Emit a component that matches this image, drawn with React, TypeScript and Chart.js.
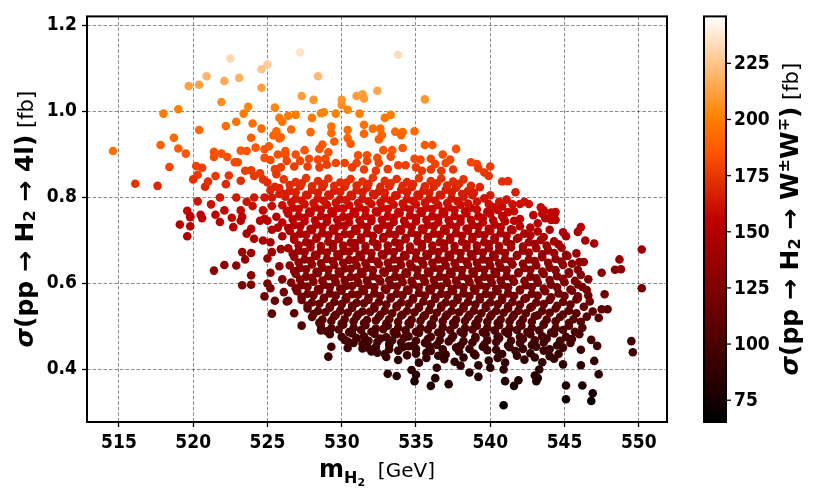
import { useEffect, useRef } from "react";
import { Chart, registerables } from "chart.js";

Chart.register(...registerables);

const massTicks = [515, 520, 525, 530, 535, 540, 545, 550];
const sigma4lTicks = [0.4, 0.6, 0.8, 1.0, 1.2];
const sigmaWWTicks = [75, 100, 125, 150, 175, 200, 225];
const massRange = [512.85, 551.9];
const sigma4lRange = [0.278, 1.221];
const sigmaWWRange = [65.3, 245.9];

// each point: [m_H2 (GeV), sigma(pp->H2->4l) (fb), sigma(pp->H2->WW) (fb)]
const topCloud = [
  [522.5,1.123,232],[525.0,1.109,228],[524.6,1.098,225],[520.9,1.082,220],[523.1,1.078,218],[522.1,1.071,216],
  [519.7,1.059,212],[520.4,1.062,213],[524.6,1.055,212],[521.9,1.022,206],[523.7,1.011,203],[525.5,1.009,203],
  [519.0,1.005,201],[518.0,0.995,199],[523.4,0.995,199],[522.9,0.976,196],[522.2,0.966,194],[524.0,0.972,195],
  [526.0,0.976,196],[520.4,0.957,192],[524.6,0.960,193],[525.6,0.954,192],[523.9,0.939,189],[525.8,0.937,189],
  [514.6,0.908,196],[517.8,0.922,190],[518.7,0.939,192],[519.0,0.914,188],[519.5,0.902,186],[521.4,0.906,185],
  [521.9,0.902,184],[521.4,0.894,183],[522.3,0.894,183],[523.2,0.909,186],[523.6,0.908,185],[524.2,0.916,187],
  [524.8,0.912,186],[525.1,0.919,187],[526.2,0.908,185],[522.8,0.882,181],[523.0,0.882,181],[524.8,0.892,183],
  [525.2,0.887,182],[520.2,0.873,179],[520.6,0.869,178],[518.4,0.871,180],[523.5,0.862,177],[523.9,0.863,177],
  [524.1,0.850,175],[524.5,0.856,176],[525.5,0.866,178],[525.6,0.854,175],[521.5,0.850,175],[522.4,0.851,175],
  [520.3,0.853,176],[520.0,0.842,173],[523.2,0.839,172],[524.7,0.842,173],[525.0,0.835,171],[516.1,0.832,173],
  [517.6,0.827,170],[520.8,0.825,169],[521.0,0.837,172],[522.2,0.831,170],[525.5,0.825,169],[525.8,0.808,166],
  [525.2,0.817,168],
  [527.2,1.137,236],[533.8,1.132,234],[528.4,1.082,221],[527.3,1.036,211],[528.1,1.027,209],[530.0,1.027,209],
  [530.0,1.015,207],[531.0,1.036,211],[531.4,1.040,212],[531.5,1.030,210],[532.4,1.048,214],[535.6,1.028,209],
  [528.6,0.996,202],[528.8,0.998,202],[530.4,1.004,203],[529.6,0.995,201],[531.2,0.995,201],[526.9,0.992,200],
  [526.4,0.990,199],[525.8,0.985,198],[533.3,0.992,200],[532.9,0.985,198],[528.0,0.985,198],[531.5,0.969,196],
  [532.1,0.960,194],[532.6,0.960,194],[534.9,0.954,193],[533.6,0.953,193],[534.1,0.952,193],[529.3,0.965,195],
  [530.4,0.957,193],[526.6,0.958,193],[527.9,0.952,192],[529.3,0.950,192],[531.5,0.948,191],[532.7,0.945,191],
  [534.0,0.945,191],[525.4,0.944,191],[525.9,0.940,190],[528.7,0.923,187],[529.5,0.930,188],[530.4,0.938,190],
  [530.6,0.925,187],[532.5,0.935,189],[535.6,0.922,187],[536.1,0.922,187],[537.7,0.913,185],[536.8,0.900,183],
  [538.7,0.882,180],[525.7,0.900,183],[526.2,0.900,183],[526.9,0.900,183],[527.5,0.910,185],[528.5,0.913,185],
  [529.1,0.905,184],[531.1,0.898,183],[531.7,0.898,183],[532.8,0.910,185],[533.4,0.910,185],[534.1,0.915,186],
  [532.4,0.892,182],[533.3,0.895,182],[534.9,0.890,181],[535.3,0.888,181],[536.0,0.890,181],[526.3,0.885,180],
  [527.2,0.885,180],[527.8,0.890,181],[528.4,0.888,181],[528.9,0.890,181],[529.6,0.880,179],[530.2,0.880,179],
  [531.0,0.880,179],[531.7,0.885,180],[532.5,0.880,179],[533.8,0.875,178],[534.3,0.875,178],[535.0,0.870,177],
  [536.3,0.878,179],[537.0,0.880,179],[537.3,0.888,181],[525.9,0.870,177],[526.8,0.872,177],[527.7,0.872,177],
  [528.5,0.870,177],[529.0,0.876,178],[530.7,0.870,177],[531.5,0.865,176],[532.3,0.862,175],[533.1,0.866,176],
  [535.4,0.862,175],[536.0,0.865,176],[536.7,0.862,175],[537.5,0.865,176],[539.1,0.878,179],
  [539.2,0.868,177],[539.6,0.858,175],[540.0,0.872,177],[539.9,0.850,174],[540.8,0.837,172],[541.2,0.838,172],
  [541.7,0.812,166],[540.0,0.805,165],[539.6,0.798,163],[538.8,0.805,165],[539.1,0.790,162],[539.9,0.785,161],
  [540.2,0.778,160],[542.0,0.785,161],[542.3,0.790,162],[542.6,0.785,161],[543.4,0.777,159],[543.6,0.770,158],
  [544.1,0.765,157],[544.4,0.766,157],[541.6,0.768,158],
];

const leftWing = [
  [521.8,0.800,164],[522.9,0.800,164],[523.6,0.790,162],[524.1,0.800,164],[524.8,0.800,164],[525.3,0.800,164],
  [520.3,0.791,162],[519.6,0.769,157],[521.2,0.784,161],[522.1,0.770,158],[523.2,0.770,158],[524.0,0.780,160],
  [524.7,0.770,158],[525.3,0.780,160],[520.5,0.760,155],[519.8,0.757,155],[521.5,0.760,155],[522.6,0.753,154],
  [523.3,0.755,154],[524.8,0.750,153],[525.6,0.755,154],
  [519.1,0.737,152],[519.8,0.754,154],[519.8,0.733,151],[520.6,0.752,154],[519.6,0.710,148],[521.8,0.743,152],
  [522.7,0.731,150],[523.2,0.746,152],[523.9,0.727,149],[523.6,0.716,147],[524.1,0.704,145],[524.5,0.746,152],
  [525.0,0.746,152],[524.7,0.700,144],[525.3,0.725,149],[525.2,0.696,143],[526.0,0.710,146],[525.7,0.730,150],
  [521.4,0.630,131],[522.1,0.643,133],[522.9,0.642,133],[523.3,0.673,139],[523.9,0.671,138],[523.5,0.656,135],
  [523.9,0.619,128],[523.3,0.596,124],[523.9,0.597,124],[525.0,0.658,136],[525.3,0.673,139],[525.2,0.625,129],
  [525.0,0.600,124],[525.9,0.680,140],[525.8,0.640,132],[526.0,0.610,126],[525.2,0.589,122],[524.8,0.570,118],
  [525.5,0.560,116],[526.1,0.580,120],[525.3,0.530,110],[526.4,0.560,116],
];

const coreUpper = [
  [526.1,0.842,174],[526.9,0.836,172],[527.6,0.845,175],[528.4,0.838,172],[529.1,0.844,174],[529.9,0.835,171],
  [530.6,0.843,174],[531.4,0.837,172],[532.1,0.846,175],[532.9,0.839,172],[533.7,0.843,173],[534.4,0.836,171],
  [535.2,0.845,175],[536.0,0.838,172],[536.7,0.844,174],[537.5,0.837,172],[538.2,0.842,173],
  [525.8,0.822,169],[526.5,0.815,167],[527.2,0.826,170],[528.0,0.818,167],[528.7,0.824,169],[529.5,0.816,166],
  [530.2,0.825,169],[531.0,0.817,167],[531.7,0.823,168],[532.5,0.814,166],[533.2,0.826,170],[534.0,0.818,167],
  [534.7,0.824,169],[535.5,0.816,166],[536.2,0.825,169],[537.0,0.818,167],[537.7,0.823,168],[538.5,0.815,166],
  [539.3,0.824,169],
  [526.2,0.802,164],[526.9,0.797,163],[527.7,0.805,165],[528.4,0.798,163],[529.2,0.804,165],[529.9,0.796,162],
  [530.7,0.803,164],[531.4,0.797,163],[532.2,0.805,165],[532.9,0.798,163],[533.7,0.804,164],[534.4,0.796,162],
  [535.2,0.803,164],[535.9,0.797,163],[536.7,0.805,165],[537.4,0.798,163],[538.2,0.802,164],
  [526.0,0.782,160],[526.7,0.776,158],[527.5,0.784,161],[528.2,0.777,159],[529.0,0.783,160],[529.7,0.775,158],
  [530.5,0.782,160],[531.2,0.777,159],[532.0,0.785,161],[532.7,0.776,158],[533.5,0.783,160],[534.2,0.778,159],
  [535.0,0.784,161],[535.7,0.776,158],[536.5,0.782,160],[537.2,0.777,159],[538.0,0.783,160],[538.7,0.776,158],
  [540.8,0.779,159],[541.5,0.784,161],
  [526.4,0.762,156],[527.1,0.756,154],[527.9,0.764,157],[528.6,0.757,155],[529.4,0.763,156],[530.1,0.755,154],
  [530.9,0.762,156],[531.6,0.757,155],[532.4,0.765,157],[533.1,0.756,154],[533.9,0.763,156],[534.6,0.758,155],
  [535.4,0.764,157],[536.1,0.756,154],[536.9,0.762,156],[537.6,0.757,155],[538.4,0.763,156],[539.2,0.756,154],
  [540.0,0.762,156],[540.8,0.757,155],[542.9,0.759,155],[543.5,0.762,156],
  [526.0,0.742,152],[526.8,0.736,150],[527.5,0.744,153],[528.3,0.737,151],[529.0,0.743,152],[529.8,0.735,150],
  [530.5,0.742,152],[531.3,0.737,151],[532.0,0.745,153],[532.8,0.736,150],[533.5,0.743,152],[534.3,0.738,151],
  [535.0,0.744,153],[535.8,0.736,150],[536.5,0.742,152],[537.3,0.737,151],[538.0,0.743,152],[538.8,0.736,150],
  [539.5,0.742,152],[540.3,0.737,151],[541.0,0.744,153],
  [526.5,0.722,148],[527.2,0.716,146],[528.0,0.724,149],[528.7,0.717,147],[529.5,0.723,148],[530.2,0.715,146],
  [531.0,0.722,148],[531.7,0.717,147],[532.5,0.725,149],[533.2,0.716,146],[534.0,0.723,148],[534.7,0.718,147],
  [535.5,0.724,149],[536.2,0.716,146],[537.0,0.722,148],[537.7,0.717,147],[538.5,0.723,148],[539.2,0.716,146],
  [540.0,0.722,148],[540.7,0.717,147],[541.5,0.724,149],[542.3,0.716,146],[543.2,0.721,147],[544.0,0.725,149],
  [544.9,0.719,147],
  [526.8,0.702,144],[527.6,0.696,142],[528.3,0.704,145],[529.1,0.697,143],[529.8,0.703,144],[530.6,0.695,142],
  [531.3,0.702,144],[532.1,0.697,143],[532.8,0.705,145],[533.6,0.696,142],[534.3,0.703,144],[535.1,0.698,143],
  [535.8,0.704,145],[536.6,0.696,142],[537.3,0.702,144],[538.1,0.697,143],[538.8,0.703,144],[539.6,0.696,142],
  [540.3,0.702,144],[541.1,0.697,143],[541.8,0.704,145],[542.6,0.696,142],[543.4,0.701,143],[544.3,0.698,143],
  [526.4,0.682,140],[527.1,0.676,138],[527.9,0.684,141],[528.6,0.677,139],[529.4,0.683,140],[530.1,0.675,138],
  [530.9,0.682,140],[531.6,0.677,139],[532.4,0.685,141],[533.1,0.676,138],[533.9,0.683,140],[534.6,0.678,139],
  [535.4,0.684,141],[536.1,0.676,138],[536.9,0.682,140],[537.6,0.677,139],[538.4,0.683,140],[539.1,0.676,138],
  [539.9,0.682,140],[540.6,0.677,139],[541.4,0.684,141],[542.2,0.676,138],[543.1,0.682,139],[543.9,0.677,138],
  [544.8,0.683,139],
];

const coreLower = [
  [526.8,0.662,136],[527.5,0.656,134],[528.3,0.664,137],[529.0,0.657,135],[529.8,0.663,136],[530.5,0.655,134],
  [531.3,0.662,136],[532.0,0.657,135],[532.8,0.665,137],[533.5,0.656,134],[534.3,0.663,136],[535.0,0.658,135],
  [535.8,0.664,137],[536.5,0.656,134],[537.3,0.662,136],[538.0,0.657,135],[538.8,0.663,136],[539.5,0.656,134],
  [540.3,0.662,136],[541.0,0.657,135],[541.8,0.664,137],[542.6,0.656,134],[543.5,0.661,135],[544.4,0.657,134],
  [545.2,0.664,135],
  [526.5,0.642,132],[527.2,0.636,130],[528.0,0.644,133],[528.7,0.637,131],[529.5,0.643,132],[530.2,0.635,130],
  [531.0,0.642,132],[531.7,0.637,131],[532.5,0.645,133],[533.2,0.636,130],[534.0,0.643,132],[534.7,0.638,131],
  [535.5,0.644,133],[536.2,0.636,130],[537.0,0.642,132],[537.7,0.637,131],[538.5,0.643,132],[539.2,0.636,130],
  [540.0,0.642,132],[540.7,0.637,131],[541.5,0.644,133],[542.3,0.636,130],[543.1,0.642,131],[544.0,0.637,130],
  [544.9,0.643,131],
  [526.9,0.622,128],[527.6,0.616,126],[528.4,0.624,129],[529.1,0.617,127],[529.9,0.623,128],[530.6,0.615,126],
  [531.4,0.622,128],[532.1,0.617,127],[532.9,0.625,129],[533.6,0.616,126],[534.4,0.623,128],[535.1,0.618,127],
  [535.9,0.624,129],[536.6,0.616,126],[537.4,0.622,128],[538.1,0.617,127],[538.9,0.623,128],[539.6,0.616,126],
  [540.4,0.622,128],[541.1,0.617,127],[541.9,0.624,129],[542.7,0.616,126],[543.6,0.622,127],[544.5,0.617,126],
  [545.3,0.623,127],
  [526.6,0.602,124],[527.3,0.596,122],[528.1,0.604,125],[528.8,0.597,123],[529.6,0.603,124],[530.3,0.595,122],
  [531.1,0.602,124],[531.8,0.597,123],[532.6,0.605,125],[533.3,0.596,122],[534.1,0.603,124],[534.8,0.598,123],
  [535.6,0.604,125],[536.3,0.596,122],[537.1,0.602,124],[537.8,0.597,123],[538.6,0.603,124],[539.3,0.596,122],
  [540.1,0.602,124],[540.8,0.597,123],[541.6,0.604,125],[542.4,0.596,122],[543.2,0.602,123],[544.1,0.597,122],
  [545.0,0.603,123],[545.9,0.598,122],
  [527.0,0.582,120],[527.7,0.576,118],[528.5,0.584,121],[529.2,0.577,119],[530.0,0.583,120],[530.7,0.575,118],
  [531.5,0.582,120],[532.2,0.577,119],[533.0,0.585,121],[533.7,0.576,118],[534.5,0.583,120],[535.2,0.578,119],
  [536.0,0.584,121],[536.7,0.576,118],[537.5,0.582,120],[538.2,0.577,119],[539.0,0.583,120],[539.7,0.576,118],
  [540.5,0.582,120],[541.2,0.577,119],[542.0,0.584,121],[542.8,0.576,118],[543.7,0.582,119],[544.6,0.577,118],
  [545.5,0.583,119],
  [527.3,0.562,116],[528.0,0.556,114],[528.8,0.564,117],[529.5,0.557,115],[530.3,0.563,116],[531.0,0.555,114],
  [531.8,0.562,116],[532.5,0.557,115],[533.3,0.565,117],[534.0,0.556,114],[534.8,0.563,116],[535.5,0.558,115],
  [536.3,0.564,117],[537.0,0.556,114],[537.8,0.562,116],[538.5,0.557,115],[539.3,0.563,116],[540.0,0.556,114],
  [540.8,0.562,116],[541.5,0.557,115],[542.3,0.564,117],[543.1,0.556,114],[544.0,0.562,115],[544.9,0.557,114],
  [545.8,0.563,115],[546.7,0.558,114],
  [527.7,0.542,112],[528.4,0.536,110],[529.2,0.544,113],[529.9,0.537,111],[530.7,0.543,112],[531.4,0.535,110],
  [532.2,0.542,112],[532.9,0.537,111],[533.7,0.545,113],[534.4,0.536,110],[535.2,0.543,112],[535.9,0.538,111],
  [536.7,0.544,113],[537.4,0.536,110],[538.2,0.542,112],[538.9,0.537,111],[539.7,0.543,112],[540.4,0.536,110],
  [541.2,0.542,112],[541.9,0.537,111],[542.7,0.544,113],[543.5,0.536,110],[544.4,0.542,111],[545.3,0.537,110],
  [528.0,0.522,108],[528.7,0.516,106],[529.5,0.524,109],[530.2,0.517,107],[531.0,0.523,108],[531.7,0.515,106],
  [532.5,0.522,108],[533.2,0.517,107],[534.0,0.525,109],[534.7,0.516,106],[535.5,0.523,108],[536.2,0.518,107],
  [537.0,0.524,109],[537.7,0.516,106],[538.5,0.522,108],[539.2,0.517,107],[540.0,0.523,108],[540.7,0.516,106],
  [541.5,0.522,108],[542.2,0.517,107],[543.0,0.524,109],[543.8,0.516,106],[544.7,0.522,107],[545.6,0.517,106],
  [546.5,0.523,107],
  [528.6,0.502,104],[529.3,0.496,102],[530.1,0.504,105],[530.8,0.497,103],[531.6,0.503,104],[532.3,0.495,102],
  [533.1,0.502,104],[533.8,0.497,103],[534.6,0.505,105],[535.3,0.496,102],[536.1,0.503,104],[536.8,0.498,103],
  [537.6,0.504,105],[538.3,0.496,102],[539.1,0.502,104],[539.8,0.497,103],[540.6,0.503,104],[541.3,0.496,102],
  [542.1,0.502,104],[542.8,0.497,103],[543.6,0.504,105],[544.4,0.496,102],[545.3,0.502,103],[546.2,0.497,102],
  [529.2,0.482,100],[530.0,0.476,98],[530.7,0.484,101],[531.5,0.477,99],[532.2,0.483,100],[533.0,0.475,98],
  [533.7,0.482,100],[534.5,0.477,99],[535.2,0.485,101],[536.0,0.476,98],[536.7,0.483,100],[537.5,0.478,99],
  [538.2,0.484,101],[539.0,0.476,98],[539.7,0.482,100],[540.5,0.477,99],[541.2,0.483,100],[542.0,0.476,98],
  [542.7,0.482,100],[543.5,0.477,99],[544.3,0.484,101],[545.1,0.476,98],[546.0,0.482,99],
  [530.8,0.462,96],[531.6,0.456,94],[532.4,0.464,97],[533.2,0.457,95],[534.0,0.463,96],[534.8,0.455,94],
  [535.6,0.462,96],[536.4,0.457,95],[537.2,0.465,97],[538.0,0.456,94],[538.8,0.463,96],[539.6,0.458,95],
  [540.4,0.464,97],[541.2,0.456,94],[542.0,0.462,96],[542.8,0.457,95],[543.6,0.463,96],[544.5,0.456,94],
  [545.4,0.462,95],
  [532.0,0.442,92],[532.9,0.436,90],[533.8,0.444,93],[535.0,0.437,91],[536.0,0.443,92],[537.0,0.435,90],
  [537.9,0.442,92],[538.9,0.437,91],[539.8,0.445,93],[540.8,0.436,90],[541.7,0.443,92],[542.7,0.438,91],
  [543.6,0.444,93],[544.6,0.436,90],
  [533.8,0.422,88],[535.2,0.416,86],[536.9,0.424,89],[537.6,0.418,87],[539.9,0.421,88],[541.0,0.416,86],
  [542.3,0.423,88],[543.5,0.417,87],[544.3,0.425,89],
];

const coreFillUpper = [
  [526.5,0.829,171],[527.3,0.833,172],[528.0,0.826,170],[528.8,0.831,171],[529.5,0.827,170],[530.3,0.834,172],
  [531.0,0.828,170],[531.8,0.832,171],[532.6,0.825,169],[533.3,0.833,172],[534.1,0.827,170],[534.8,0.831,171],
  [535.6,0.826,170],[536.4,0.833,172],[537.1,0.828,170],[537.9,0.832,171],[538.7,0.827,170],
  [526.1,0.808,166],[526.9,0.812,167],[527.6,0.806,165],[528.4,0.811,166],[529.1,0.807,165],[529.9,0.813,167],
  [530.6,0.806,165],[531.4,0.812,166],[532.1,0.808,165],[532.9,0.811,166],[533.6,0.805,164],[534.4,0.812,166],
  [535.1,0.807,165],[535.9,0.811,166],[536.6,0.806,165],[537.4,0.812,166],[538.1,0.808,165],[538.9,0.811,166],
  [526.6,0.789,162],[527.3,0.793,163],[528.1,0.787,161],[528.8,0.792,162],[529.6,0.788,161],[530.3,0.794,163],
  [531.1,0.787,161],[531.8,0.791,162],[532.6,0.788,161],[533.3,0.793,163],[534.1,0.786,161],[534.8,0.792,162],
  [535.6,0.788,161],[536.3,0.793,163],[537.1,0.787,161],[537.8,0.791,162],[538.5,0.786,161],[540.6,0.790,162],
  [541.1,0.795,163],
  [526.3,0.769,158],[527.1,0.773,159],[527.8,0.767,157],[528.6,0.772,158],[529.3,0.768,157],[530.1,0.774,159],
  [530.8,0.767,157],[531.6,0.771,158],[532.3,0.768,157],[533.1,0.773,159],[533.8,0.766,157],[534.6,0.772,158],
  [535.3,0.768,157],[536.1,0.773,159],[536.8,0.767,157],[537.6,0.771,158],[538.3,0.768,157],[539.1,0.772,158],
  [539.8,0.767,157],[540.5,0.771,158],[541.2,0.766,157],
  [526.7,0.749,154],[527.5,0.753,155],[528.2,0.747,153],[529.0,0.752,154],[529.7,0.748,153],[530.5,0.754,155],
  [531.2,0.747,153],[532.0,0.751,154],[532.7,0.748,153],[533.5,0.753,155],[534.2,0.746,153],[535.0,0.752,154],
  [535.7,0.748,153],[536.5,0.753,155],[537.2,0.747,153],[538.0,0.751,154],[538.7,0.748,153],[539.5,0.752,154],
  [540.2,0.747,153],[540.9,0.751,154],[541.6,0.746,153],
  [526.4,0.729,150],[527.2,0.733,151],[527.9,0.727,149],[528.7,0.732,150],[529.4,0.728,149],[530.2,0.734,151],
  [530.9,0.727,149],[531.7,0.731,150],[532.4,0.728,149],[533.2,0.733,151],[533.9,0.726,149],[534.7,0.732,150],
  [535.4,0.728,149],[536.2,0.733,151],[536.9,0.727,149],[537.7,0.731,150],[538.4,0.728,149],[539.2,0.732,150],
  [539.9,0.727,149],[540.7,0.731,150],[541.4,0.726,149],[542.0,0.733,150],
  [526.8,0.709,146],[527.6,0.713,147],[528.3,0.707,145],[529.1,0.712,146],[529.8,0.708,145],[530.6,0.714,147],
  [531.3,0.707,145],[532.1,0.711,146],[532.8,0.708,145],[533.6,0.713,147],[534.3,0.706,145],[535.1,0.712,146],
  [535.8,0.708,145],[536.6,0.713,147],[537.3,0.707,145],[538.1,0.711,146],[538.8,0.708,145],[539.6,0.712,146],
  [540.3,0.707,145],[541.1,0.711,146],[541.9,0.706,145],[542.7,0.712,146],[543.6,0.708,145],
  [527.1,0.689,142],[527.9,0.693,143],[528.6,0.687,141],[529.4,0.692,142],[530.1,0.688,141],[530.9,0.694,143],
  [531.6,0.687,141],[532.4,0.691,142],[533.1,0.688,141],[533.9,0.693,143],[534.6,0.686,141],[535.4,0.692,142],
  [536.1,0.688,141],[536.9,0.693,143],[537.6,0.687,141],[538.4,0.691,142],[539.1,0.688,141],[539.9,0.692,142],
  [540.6,0.687,141],[541.4,0.691,142],[542.2,0.686,141],[543.0,0.692,142],[543.8,0.688,141],[544.6,0.691,141],
  [526.7,0.669,138],[527.5,0.673,139],[528.2,0.667,137],[529.0,0.672,138],[529.7,0.668,137],[530.5,0.674,139],
  [531.2,0.667,137],[532.0,0.671,138],[532.7,0.668,137],[533.5,0.673,139],[534.2,0.666,137],[535.0,0.672,138],
  [535.7,0.668,137],[536.5,0.673,139],[537.2,0.667,137],[538.0,0.671,138],[538.7,0.668,137],[539.5,0.672,138],
  [540.2,0.667,137],[541.0,0.671,138],[541.8,0.666,137],[542.6,0.672,138],[543.5,0.668,137],[544.3,0.671,137],
  [545.1,0.667,136],
];

const coreFillLower = [
  [527.1,0.649,134],[527.9,0.653,135],[528.6,0.647,133],[529.4,0.652,134],[530.1,0.648,133],[530.9,0.654,135],
  [531.6,0.647,133],[532.4,0.651,134],[533.1,0.648,133],[533.9,0.653,135],[534.6,0.646,133],[535.4,0.652,134],
  [536.1,0.648,133],[536.9,0.653,135],[537.6,0.647,133],[538.4,0.651,134],[539.1,0.648,133],[539.9,0.652,134],
  [540.6,0.647,133],[541.4,0.651,134],[542.2,0.646,133],[543.0,0.652,134],[543.9,0.648,133],[544.8,0.651,133],
  [545.5,0.646,132],
  [526.8,0.629,130],[527.6,0.633,131],[528.3,0.627,129],[529.1,0.632,130],[529.8,0.628,129],[530.6,0.634,131],
  [531.3,0.627,129],[532.1,0.631,130],[532.8,0.628,129],[533.6,0.633,131],[534.3,0.626,129],[535.1,0.632,130],
  [535.8,0.628,129],[536.6,0.633,131],[537.3,0.627,129],[538.1,0.631,130],[538.8,0.628,129],[539.6,0.632,130],
  [540.3,0.627,129],[541.1,0.631,130],[541.9,0.626,129],[542.7,0.632,130],[543.5,0.628,129],[544.4,0.631,129],
  [545.3,0.626,128],[545.9,0.632,129],
  [527.2,0.609,126],[528.0,0.613,127],[528.7,0.607,125],[529.5,0.612,126],[530.2,0.608,125],[531.0,0.614,127],
  [531.7,0.607,125],[532.5,0.611,126],[533.2,0.608,125],[534.0,0.613,127],[534.7,0.606,125],[535.5,0.612,126],
  [536.2,0.608,125],[537.0,0.613,127],[537.7,0.607,125],[538.5,0.611,126],[539.2,0.608,125],[540.0,0.612,126],
  [540.7,0.607,125],[541.5,0.611,126],[542.3,0.606,125],[543.1,0.612,126],[544.0,0.608,125],[544.9,0.611,125],
  [545.7,0.606,124],
  [526.9,0.589,122],[527.7,0.593,123],[528.4,0.587,121],[529.2,0.592,122],[529.9,0.588,121],[530.7,0.594,123],
  [531.4,0.587,121],[532.2,0.591,122],[532.9,0.588,121],[533.7,0.593,123],[534.4,0.586,121],[535.2,0.592,122],
  [535.9,0.588,121],[536.7,0.593,123],[537.4,0.587,121],[538.2,0.591,122],[538.9,0.588,121],[539.7,0.592,122],
  [540.4,0.587,121],[541.2,0.591,122],[542.0,0.586,121],[542.8,0.592,122],[543.6,0.588,121],[544.5,0.591,121],
  [545.4,0.586,120],[546.2,0.592,121],
  [527.3,0.569,118],[528.1,0.573,119],[528.8,0.567,117],[529.6,0.572,118],[530.3,0.568,117],[531.1,0.574,119],
  [531.8,0.567,117],[532.6,0.571,118],[533.3,0.568,117],[534.1,0.573,119],[534.8,0.566,117],[535.6,0.572,118],
  [536.3,0.568,117],[537.1,0.573,119],[537.8,0.567,117],[538.6,0.571,118],[539.3,0.568,117],[540.1,0.572,118],
  [540.8,0.567,117],[541.6,0.571,118],[542.4,0.566,117],[543.2,0.572,118],[544.1,0.568,117],[545.0,0.571,117],
  [545.9,0.566,116],[546.6,0.572,117],
  [527.7,0.549,114],[528.5,0.553,115],[529.2,0.547,113],[530.0,0.552,114],[530.7,0.548,113],[531.5,0.554,115],
  [532.2,0.547,113],[533.0,0.551,114],[533.7,0.548,113],[534.5,0.553,115],[535.2,0.546,113],[536.0,0.552,114],
  [536.7,0.548,113],[537.5,0.553,115],[538.2,0.547,113],[539.0,0.551,114],[539.7,0.548,113],[540.5,0.552,114],
  [541.2,0.547,113],[542.0,0.551,114],[542.8,0.546,113],[543.6,0.552,114],[544.5,0.548,113],[545.4,0.551,113],
  [546.3,0.546,112],
  [528.1,0.529,110],[528.9,0.533,111],[529.6,0.527,109],[530.4,0.532,110],[531.1,0.528,109],[531.9,0.534,111],
  [532.6,0.527,109],[533.4,0.531,110],[534.1,0.528,109],[534.9,0.533,111],[535.6,0.526,109],[536.4,0.532,110],
  [537.1,0.528,109],[537.9,0.533,111],[538.6,0.527,109],[539.4,0.531,110],[540.1,0.528,109],[540.9,0.532,110],
  [541.6,0.527,109],[542.4,0.531,110],[543.2,0.526,109],[544.0,0.532,110],[544.9,0.528,109],[545.8,0.531,109],
  [528.5,0.509,106],[529.3,0.513,107],[530.0,0.507,105],[530.8,0.512,106],[531.5,0.508,105],[532.3,0.514,107],
  [533.0,0.507,105],[533.8,0.511,106],[534.5,0.508,105],[535.3,0.513,107],[536.0,0.506,105],[536.8,0.512,106],
  [537.5,0.508,105],[538.3,0.513,107],[539.0,0.507,105],[539.8,0.511,106],[540.5,0.508,105],[541.3,0.512,106],
  [542.0,0.507,105],[542.8,0.511,106],[543.6,0.506,105],[544.4,0.512,106],[545.3,0.508,105],[546.1,0.511,105],
  [529.0,0.489,102],[529.8,0.493,103],[530.5,0.487,101],[531.3,0.492,102],[532.0,0.488,101],[532.8,0.494,103],
  [533.5,0.487,101],[534.3,0.491,102],[535.0,0.488,101],[535.8,0.493,103],[536.5,0.486,101],[537.3,0.492,102],
  [538.0,0.488,101],[538.8,0.493,103],[539.5,0.487,101],[540.3,0.491,102],[541.0,0.488,101],[541.8,0.492,102],
  [542.5,0.487,101],[543.3,0.491,102],[544.1,0.486,101],[544.9,0.492,102],[545.7,0.488,101],
  [530.2,0.469,98],[531.0,0.473,99],[531.8,0.467,97],[532.6,0.472,98],[533.4,0.468,97],[534.2,0.474,99],
  [535.0,0.467,97],[535.8,0.471,98],[536.6,0.468,97],[537.4,0.473,99],[538.2,0.466,97],[539.0,0.472,98],
  [539.8,0.468,97],[540.6,0.473,99],[541.4,0.467,97],[542.2,0.471,98],[543.0,0.468,97],[543.8,0.472,98],
  [544.7,0.467,97],[545.5,0.471,97],
  [531.4,0.449,94],[532.3,0.453,95],[533.2,0.447,93],[534.1,0.452,94],[535.0,0.448,93],[535.9,0.454,95],
  [536.8,0.447,93],[537.7,0.451,94],[538.6,0.448,93],[539.5,0.453,95],[540.4,0.446,93],[541.3,0.452,94],
  [542.2,0.448,93],[543.1,0.453,95],[544.0,0.447,93],[544.9,0.451,93],
  [533.0,0.429,90],[534.4,0.433,91],[535.7,0.427,89],[536.5,0.432,90],[538.2,0.428,89],[539.0,0.433,91],
  [540.5,0.427,89],[541.8,0.432,90],[543.0,0.428,89],[544.0,0.431,89],
];

const lowerTail = [
  [529.1,0.430,92],[529.3,0.453,96],[528.6,0.491,102],[527.3,0.502,104],[526.8,0.531,110],[526.3,0.558,115],
  [530.4,0.450,95],[530.4,0.465,97],[531.4,0.460,96],[531.8,0.450,95],[532.4,0.439,92],[533.1,0.390,84],
  [533.7,0.385,83],[534.7,0.399,85],[534.9,0.373,81],[535.0,0.388,84],[536.0,0.362,79],[536.3,0.380,82],
  [536.4,0.404,86],[537.2,0.366,80],[538.0,0.409,87],[538.6,0.393,84],[539.2,0.410,87],[535.7,0.439,92],
  [534.5,0.454,95],[533.2,0.460,96],
  [540.9,0.317,68],[541.6,0.362,78],[541.9,0.375,80],[541.0,0.373,80],[539.2,0.383,82],[543.1,0.373,80],
  [543.2,0.380,82],[543.0,0.386,83],[545.1,0.363,78],[545.1,0.331,71],[546.2,0.363,78],[546.8,0.327,70],
  [546.9,0.345,74],[547.3,0.389,84],[544.9,0.412,88],[546.1,0.410,88],[547.0,0.420,90],[540.0,0.404,86],
  [540.9,0.400,86],[543.3,0.400,86],
];

const rightEdge = [
  [549.5,0.466,98],[549.6,0.440,94],[550.2,0.679,140],[550.2,0.589,122],[548.7,0.656,136],[548.4,0.632,131],
  [548.8,0.633,131],[547.5,0.625,130],[547.7,0.575,119],[547.9,0.540,112],[547.5,0.540,112],[546.9,0.535,111],
  [547.3,0.520,108],[547.0,0.693,142],[546.4,0.700,144],[546.1,0.731,150],[545.9,0.720,148],[545.1,0.710,146],
  [545.8,0.670,138],[546.0,0.650,134],[546.3,0.650,134],[546.1,0.620,128],[546.6,0.610,126],[546.5,0.585,121],
  [545.9,0.570,118],[544.4,0.748,153],[544.1,0.748,153],[543.7,0.752,154],[543.2,0.740,152],[542.7,0.730,150],
  [542.0,0.750,154],[546.1,0.446,94],[546.8,0.469,98],[547.2,0.455,96],
];

const TICK_FONT = '"DejaVu Sans Condensed", "DejaVu Sans", sans-serif';
const TITLE_FONT = '"DejaVu Sans", sans-serif';

// matplotlib gist_heat
function gistHeat(t: number) {
  const c = (v: number) => Math.round(255 * Math.min(1, Math.max(0, v)));
  return `rgb(${c(1.5 * t)},${c(2 * t - 1)},${c(4 * t - 3)})`;
}

function colorFor(v: number) {
  return gistHeat((v - sigmaWWRange[0]) / (sigmaWWRange[1] - sigmaWWRange[0]));
}

type Run = { t: string; s: number; bold?: boolean; italic?: boolean; dy?: number };

function drawRuns(ctx: CanvasRenderingContext2D, runs: Run[], x: number, y: number, vertical: boolean) {
  ctx.save();
  ctx.translate(x, y);
  if (vertical) ctx.rotate(-Math.PI / 2);
  ctx.fillStyle = "#000";
  ctx.textBaseline = "alphabetic";
  ctx.textAlign = "left";
  const fontOf = (r: Run) => `${r.italic ? "italic " : ""}${r.bold === false ? "" : "bold "}${r.s}px ${TITLE_FONT}`;
  const widths = runs.map((r) => {
    ctx.font = fontOf(r);
    return ctx.measureText(r.t).width;
  });
  let cx = -widths.reduce((a, b) => a + b, 0) / 2;
  runs.forEach((r, i) => {
    ctx.font = fontOf(r);
    ctx.fillText(r.t, cx, r.dy || 0);
    cx += widths[i];
  });
  ctx.restore();
}

const xTitle: Run[] = [
  { t: "m", s: 24 },
  { t: "H", s: 16, dy: 6 },
  { t: "2", s: 11, dy: 8.5 },
  { t: "  [GeV]", s: 20, bold: false },
];
const yTitle: Run[] = [
  { t: "σ", s: 25, italic: true },
  { t: "(pp → H", s: 25 },
  { t: "2", s: 16, dy: 2 },
  { t: " → 4l)", s: 25 },
  { t: " [fb]", s: 21, bold: false },
];
const cbTitle: Run[] = [
  { t: "σ", s: 25, italic: true },
  { t: "(pp → H", s: 25 },
  { t: "2", s: 16, dy: 2 },
  { t: " → W", s: 25 },
  { t: "±", s: 16, dy: -9 },
  { t: "W", s: 25 },
  { t: "∓", s: 16, dy: -9 },
  { t: ")", s: 25 },
  { t: " [fb]", s: 21, bold: false },
];

const decorations = {
  id: "decorations",
  afterDraw(chart: Chart) {
    const { ctx, chartArea } = chart;
    const { left, right, top, bottom } = chartArea;
    ctx.save();
    // frame
    ctx.strokeStyle = "#000";
    ctx.lineWidth = 2;
    ctx.strokeRect(left, top, right - left, bottom - top);

    // colorbar
    const cbL = 704;
    const cbR = 726;
    const grad = ctx.createLinearGradient(0, bottom, 0, top);
    for (let i = 0; i <= 60; i++) grad.addColorStop(i / 60, gistHeat(i / 60));
    ctx.fillStyle = grad;
    ctx.fillRect(cbL, top, cbR - cbL, bottom - top);
    ctx.strokeRect(cbL, top, cbR - cbL, bottom - top);
    ctx.lineWidth = 1.3;
    ctx.fillStyle = "#000";
    ctx.font = `bold 19px ${TICK_FONT}`;
    ctx.textAlign = "left";
    ctx.textBaseline = "middle";
    sigmaWWTicks.forEach((v) => {
      const y = bottom - ((v - sigmaWWRange[0]) / (sigmaWWRange[1] - sigmaWWRange[0])) * (bottom - top);
      ctx.beginPath();
      ctx.moveTo(cbR, y);
      ctx.lineTo(cbR + 5, y);
      ctx.stroke();
      ctx.fillText(String(v), cbR + 8, y + 1);
    });
    ctx.restore();

    drawRuns(ctx, xTitle, (left + right) / 2, 477, false);
    drawRuns(ctx, yTitle, 33, (top + bottom) / 2, true);
    drawRuns(ctx, cbTitle, 798, (top + bottom) / 2, true);
  },
};

const allPoints = [
  ...topCloud, ...leftWing, ...coreUpper, ...coreFillUpper, ...coreLower, ...coreFillLower, ...lowerTail, ...rightEdge,
];

const ScatterChart: React.FC = () => {
  const chartRef = useRef<HTMLCanvasElement | null>(null);
  const chartInstance = useRef<Chart | null>(null);

  useEffect(() => {
    if (chartInstance.current) chartInstance.current.destroy();
    if (!chartRef.current) return;
    const ctx = chartRef.current.getContext("2d");
    if (!ctx) return;

    const gridOpts = {
      color: "rgba(0,0,0,0.5)",
      lineWidth: 0.9,
      tickColor: "#000",
      tickLength: 5,
      tickWidth: 1.3,
      tickBorderDash: [],
    };
    const tickFont = { family: TICK_FONT, size: 19, weight: "bold" as const };

    chartInstance.current = new Chart(ctx, {
      type: "scatter",
      data: {
        datasets: [
          {
            data: allPoints.map(([x, y]) => ({ x, y })),
            pointBackgroundColor: allPoints.map((p) => colorFor(p[2])),
            pointBorderWidth: 0,
            pointRadius: 4.3,
          },
        ],
      },
      options: {
        animation: false,
        responsive: false,
        events: [],
        layout: { padding: { top: 13, right: 163, bottom: 0, left: 0 } },
        plugins: { legend: { display: false }, tooltip: { enabled: false } },
        scales: {
          x: {
            type: "linear",
            min: massRange[0],
            max: massRange[1],
            z: 1,
            afterBuildTicks: (axis) => {
              axis.ticks = massTicks.map((value) => ({ value }));
            },
            afterFit: (scale) => {
              scale.height = 76;
            },
            ticks: { font: tickFont, color: "#000", padding: 5, maxRotation: 0, callback: (v) => String(v) },
            grid: gridOpts,
            border: { display: false, dash: [3.5, 2] },
          },
          y: {
            type: "linear",
            min: sigma4lRange[0],
            max: sigma4lRange[1],
            z: 1,
            afterBuildTicks: (axis) => {
              axis.ticks = sigma4lTicks.map((value) => ({ value }));
            },
            afterFit: (scale) => {
              scale.width = 87;
            },
            ticks: { font: tickFont, color: "#000", padding: 5, callback: (v) => Number(v).toFixed(1) },
            grid: gridOpts,
            border: { display: false, dash: [3.5, 2] },
          },
        },
      },
      plugins: [decorations],
    });

    return () => {
      if (chartInstance.current) {
        chartInstance.current.destroy();
        chartInstance.current = null;
      }
    };
  }, []);

  return (
    <div style={{ position: "absolute", left: 0, top: 0, width: 830, height: 498, background: "#fff" }}>
      <canvas ref={chartRef} width={830} height={498} style={{ width: 830, height: 498 }}></canvas>
    </div>
  );
};

export default function App() {
  return <ScatterChart />;
}
